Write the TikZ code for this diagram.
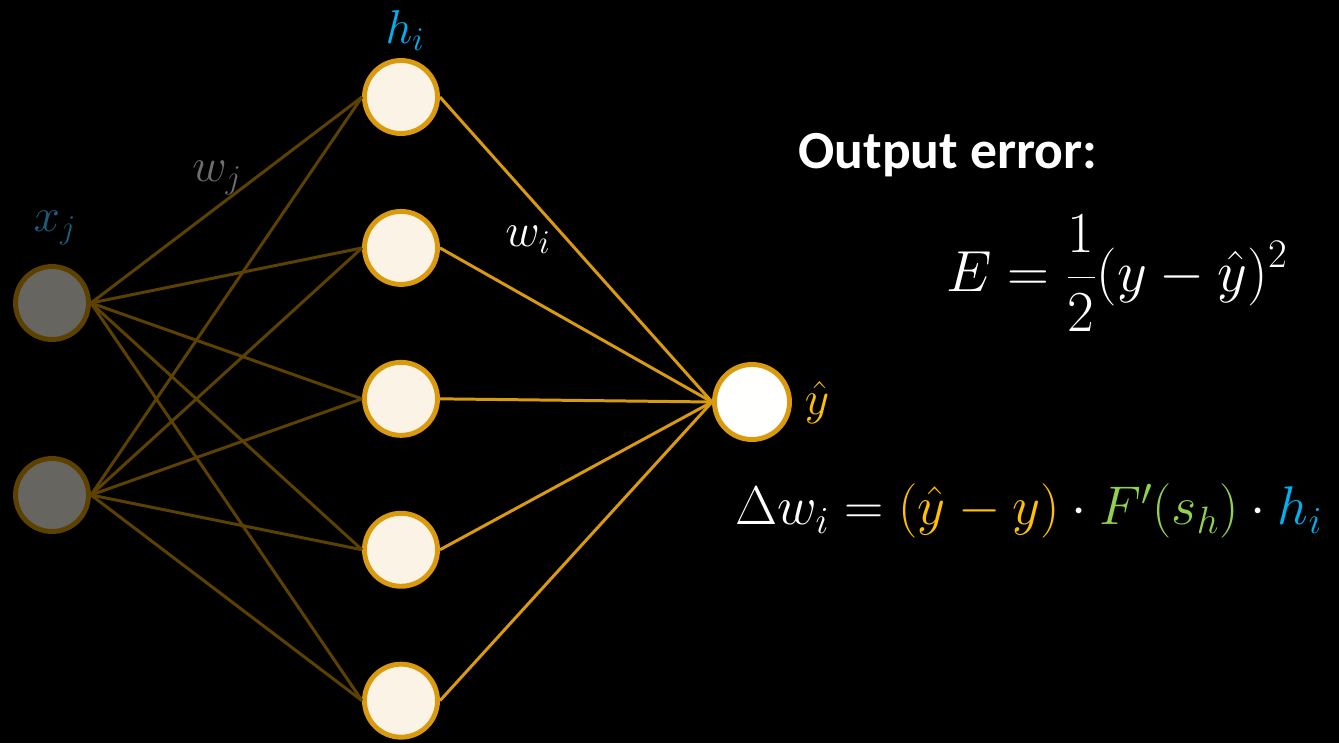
\RequirePackage{fix-cm}
\documentclass[tikz,border=0pt]{standalone}
\usepackage{fontspec}
\setsansfont{Carlito}
\usetikzlibrary{positioning}
\definecolor{gold}{HTML}{D99A0E}
\definecolor{goldDim}{HTML}{5C4100}
\definecolor{cream}{HTML}{FBF4E6}
\definecolor{stone}{HTML}{666560}
\definecolor{sky}{HTML}{00B0F0}
\definecolor{deepteal}{HTML}{1C5C7C}
\definecolor{amber}{HTML}{FFC000}
\definecolor{leaf}{HTML}{92D050}
\definecolor{slate}{HTML}{6E6E6E}
\tikzset{
  unit/.style={circle,minimum size=1.46cm,inner sep=0pt,line width=2.8pt},
  hidunit/.style={unit,draw=gold,fill=cream},
  inunit/.style={unit,draw=goldDim,fill=stone},
  outunit/.style={unit,draw=gold,fill=white!96!cream,minimum size=1.5cm},
  weakedge/.style={line width=1.7pt,draw=goldDim},
  strongedge/.style={line width=1.7pt,draw=gold},
  mathlabel/.style={font=\fontsize{27}{30}\selectfont,inner sep=0pt},
  bigmath/.style={font=\fontsize{31}{35}\selectfont,inner sep=0pt,text=white}
}

\begin{document}
\begin{tikzpicture}
    \fill[black] (0,0) rectangle (26.78,14.86);
    \useasboundingbox (0,0) rectangle (26.78,14.86);
    % hidden layer
    \node[hidunit] (hid1) at (8.02,12.92) {};
    \foreach \a/\b in {1/2,2/3,3/4,4/5}
      \node[hidunit,below=1.46cm of hid\a] (hid\b) {};
    % inputs and output
    \node[inunit] (in1) at (1.04,8.80) {};
    \node[inunit] (in2) at (1.04,4.96) {};
    \node[outunit] (out) at (15.04,6.82) {};
    % connections
    \foreach \i in {1,2}
      \foreach \h in {1,...,5}
        \draw[weakedge] (in\i.east) -- (hid\h.west);
    \foreach \h in {1,...,5}
      \draw[strongedge] (hid\h.east) -- (out.west);
    % labels
    \node[mathlabel,text=sky] (lblh) at (8.10,14.25) {$h_i$};
    \node[mathlabel,text=deepteal] (lblx) at (1.10,10.30) {$x_j$};
    \node[mathlabel,text=slate] (lblwj) at (4.34,11.30) {$w_j$};
    \node[mathlabel,text=white] (lblwi) at (10.56,10.06) {$w_i$};
    \node[mathlabel,text=amber] (lbly) at (16.34,6.80) {$\hat{y}$};
    % formulas
    \node[font=\sffamily\bfseries\fontsize{30.5}{34}\selectfont,text=white,inner sep=0pt]
      (errtitle) at (18.96,11.76) {Output error:};
    \node[bigmath,font=\fontsize{33}{37}\selectfont] (errEq) at (22.34,9.40)
      {$\displaystyle E=\frac{1}{2}(y-\hat{y})^2$};
    \node[bigmath,anchor=base west] (deltaEq) at (14.70,4.36)
      {$\Delta w_i=\textcolor{amber}{(\hat{y}-y)}\cdot\textcolor{leaf}{F'(s_h)}\cdot\textcolor{sky}{h_i}$};
\end{tikzpicture}
\end{document}
